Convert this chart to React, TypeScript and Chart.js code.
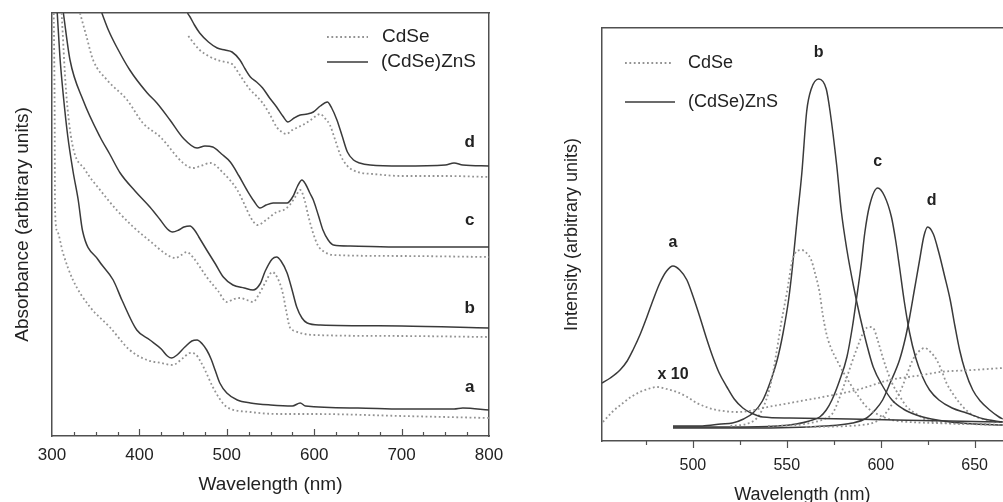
import React, { useEffect, useRef } from 'react';
import { Chart, registerables } from 'chart.js';
Chart.register(...registerables);
Chart.defaults.font.family = 'Arial, "Liberation Sans", Helvetica, sans-serif';

type P = [number, number];

// ---------- Left panel: absorbance (wavelength nm, arbitrary units) ----------
const absTickLabels = [300, 400, 500, 600, 700, 800];
const absMajorTicks = [400, 500, 600, 700];
const absMinorTicks = [325, 350, 375, 425, 450, 475, 525, 550, 575, 625, 650, 675, 725, 750, 775];

const absA_CdSe: P[] = [[302, 423], [303, 330], [303.5, 226], [306, 205], [312.6, 183], [324, 156], [343.5, 129], [366, 109], [389, 86], [408.7, 76], [425, 73], [438, 71], [450, 78], [458, 83], [464, 82], [469, 76], [475, 66], [484, 49], [492, 37], [500, 29], [526.5, 24], [560, 22], [600, 22], [700, 20], [800, 18]];
const absA_ZnS: P[] = [[306, 423], [309, 380], [313, 340], [318, 300], [324, 265], [330, 236], [335, 205], [353, 176], [370, 156], [380, 136], [397, 106], [412, 96], [425, 87], [432, 80], [437, 78], [443, 81], [452, 89], [460, 95], [466, 96], [472, 92], [477, 86], [482, 77], [487, 65], [492, 53], [500, 43], [512, 36], [527, 33], [550, 31], [575, 30], [584, 33], [590, 30], [650, 28], [700, 27], [760, 27], [770, 28], [800, 26]];
const absB_CdSe: P[] = [[311, 423], [316, 346], [323, 293], [338, 266], [355, 246], [375, 225], [393, 209], [412, 195], [432, 181], [441, 178], [448, 181], [454, 184], [462, 178], [470, 168], [477, 159], [490, 145], [500, 134], [508, 137], [515, 138], [523, 136], [530, 134], [537, 142], [545, 155], [552, 164], [558, 158], [564, 143], [568, 125], [572, 109], [578, 105], [584, 103], [600, 101], [700, 100], [800, 99]];
const absB_ZnS: P[] = [[313, 423], [320.6, 376], [335.5, 336], [355, 299], [366, 282], [378, 263], [395, 245], [412, 229], [424, 216], [432, 207], [438, 204], [445, 206], [451, 209], [458, 210], [463, 206], [468, 199], [477, 186], [487, 172], [496, 159], [507, 151], [520, 148], [530, 146], [538, 152], [544, 165], [552, 177], [557, 179], [562, 175], [569, 163], [575, 145], [580, 129], [586, 118], [592, 113], [607, 111], [700, 110], [800, 108]];
const absC_CdSe: P[] = [[332, 423], [339, 401], [347, 376], [363, 356], [386, 336], [404, 313], [424, 299], [450, 273], [461, 268], [470, 270], [481, 273], [496, 263], [512, 246], [520, 232], [527, 219], [535, 211], [545, 216], [557, 224], [565, 226], [572, 231], [579, 240], [584, 246], [589, 236], [593, 221], [598, 205], [604, 191], [612, 184], [622, 181], [700, 180], [800, 179]];
const absC_ZnS: P[] = [[357, 423], [365, 405], [374, 389], [389, 366], [409, 343], [420, 333], [435, 316], [450, 298], [466, 288], [475, 290], [484, 289], [494, 282], [504, 274], [514, 260], [523, 246], [531, 235], [538, 228], [545, 231], [553, 233], [562, 233], [569, 233], [576, 240], [581, 250], [586, 256], [590, 252], [595, 243], [599, 236], [605, 220], [610, 206], [616, 196], [622, 191], [641, 190], [700, 189], [800, 189]];
const absD_CdSe: P[] = [[456, 400], [462, 393], [469, 386], [479, 380], [489, 376], [498, 374], [506, 372], [515, 361], [521, 353], [527, 346], [534, 340], [541, 333], [549, 322], [557, 309], [563, 304], [568, 302], [575, 306], [582, 309], [589, 312], [596, 316], [602, 320], [607, 322], [612, 318], [618, 311], [624, 296], [630, 281], [637, 271], [644, 266], [655, 263], [667, 262], [700, 260], [750, 260], [800, 259]];
const absD_ZnS: P[] = [[455, 423], [458, 419], [463, 411], [469, 403], [479, 394], [489, 388], [498, 386], [506, 384], [515, 376], [521, 367], [527, 359], [534, 354], [541, 348], [549, 338], [557, 329], [564, 320], [570, 314], [577, 318], [584, 321], [592, 322], [599, 324], [607, 330], [615, 334], [620, 328], [626, 316], [632, 300], [638, 284], [645, 276], [652, 273], [664, 271], [700, 270], [750, 271], [760, 273], [770, 271], [800, 270]];

// ---------- Right panel: photoluminescence ----------
const plTickLabels = [500, 550, 600, 650];
const plMajorTicks = [500, 550, 600, 650];
const plMinorTicks = [475, 525, 575, 625];

const plA_CdSe_x10: P[] = [[452.1, 19], [457, 29], [462.8, 38], [467, 44], [471.8, 49], [476, 52], [480.9, 54], [486, 52], [491.5, 49], [497, 44], [502.1, 38], [507, 34], [512.8, 31], [523.4, 29], [530, 30], [537.2, 33], [551.6, 38], [569.1, 44], [587.2, 51], [604.8, 61], [622.3, 66], [631.4, 69], [648.9, 71], [664.9, 73]];
const plA_ZnS: P[] = [[451.6, 58], [456, 63], [461.2, 71], [465, 80], [468.1, 91], [472, 107], [475.5, 124], [479, 142], [482.4, 158], [486, 170], [489.4, 175], [493, 171], [496.8, 161], [500, 145], [503.7, 124], [507, 104], [510.6, 84], [514, 68], [518.1, 54], [522, 42], [526.6, 33], [531, 28], [537.2, 24], [551.6, 23], [583.5, 22], [636.7, 20], [665, 19]];
const plB_CdSe: P[] = [[520, 15], [530, 18], [535, 25], [539, 41], [542, 62], [544.7, 91], [547, 118], [550, 148], [553, 181], [555.5, 190], [558, 191], [560.5, 188], [563, 181], [565, 168], [567.5, 148], [569, 128], [571, 108], [573.5, 93], [576.6, 81], [580, 69], [583.5, 58], [588, 45], [592.5, 34], [599, 26], [606, 21], [615, 19], [627.7, 18], [645, 17], [665, 16]];
const plB_ZnS: P[] = [[489.4, 15], [505, 15], [515, 17], [521, 18], [527, 22], [532, 28], [537, 40], [541, 58], [545, 82], [548, 108], [551, 142], [553, 174], [555.5, 222], [558, 268], [560.6, 330], [563, 352], [567, 362], [571, 352], [573, 330], [576.6, 275], [579, 230], [582, 191], [585.5, 155], [589, 124], [592.5, 97], [596, 74], [601, 55], [606, 41], [612, 32], [619, 26], [627, 22], [637, 19], [650, 17], [665, 16]];
const plC_CdSe: P[] = [[540, 15], [555, 16], [565, 19], [570, 22], [574.5, 28], [578, 43], [582, 64], [587, 91], [591.5, 111], [594, 114], [596, 113], [598.5, 100], [601, 84], [603.5, 70], [606, 58], [610, 45], [614, 34], [619, 27], [624.5, 21], [635, 18], [650, 17], [665, 16]];
const plC_ZnS: P[] = [[489.4, 14], [520, 14], [545, 15], [555, 17], [562, 20], [567.5, 24], [571, 31], [574, 41], [578, 60], [582, 84], [585, 115], [587, 141], [589.5, 175], [591.5, 208], [594, 235], [598.4, 253], [602, 245], [605.7, 224], [608, 200], [610, 174], [612.5, 140], [615.4, 108], [618.5, 84], [622.3, 64], [626, 51], [631, 41], [638, 33], [645.7, 28], [655, 22], [665, 19]];
const plD_CdSe: P[] = [[560, 14], [590, 16], [597, 19], [601, 24], [605, 34], [610, 48], [613.5, 64], [617, 81], [620, 89], [623.4, 93], [626.5, 89], [629.8, 81], [632.5, 70], [635, 58], [638.5, 47], [642, 38], [646, 30], [651, 24], [657, 21], [663, 19], [665, 19]];
const plD_ZnS: P[] = [[489.4, 13], [530, 13], [570, 15], [585, 18], [592.5, 23], [597, 31], [601, 41], [605, 58], [610, 81], [613, 102], [615.4, 124], [618, 152], [620.7, 181], [623, 205], [625, 214], [628, 207], [631, 188], [634, 165], [637, 141], [639.5, 115], [642, 91], [645, 70], [649, 51], [653, 40], [658, 31], [663, 24], [665, 22]];

const SOLID = '#3a3a3a';
const DOT = '#939393';
const AXIS = '#505050';
const TXT = '#222222';

const toXY = (p: P[]) => p.map(([x, y]) => ({ x, y }));
function ds(label: string, pts: P[], dotted: boolean) {
  return {
    label,
    data: toXY(pts),
    borderColor: dotted ? DOT : SOLID,
    borderWidth: dotted ? 1.8 : 1.5,
    borderDash: dotted ? [1.8, 2.6] : [],
    pointRadius: 0,
    cubicInterpolationMode: 'monotone',
    fill: false,
  };
}

const decorPlugin = {
  id: 'decor',
  afterDraw(chart: any) {
    const o = chart.options.plugins.decor;
    if (!o) return;
    const ctx = chart.ctx;
    const xs = chart.scales.x;
    const ys = chart.scales.y;
    const bottom = chart.chartArea.bottom;
    ctx.save();
    ctx.strokeStyle = AXIS;
    ctx.lineWidth = 1.2;
    const tick = (v: number, len: number) => {
      const px = Math.round(xs.getPixelForValue(v)) + 0.5;
      ctx.beginPath();
      ctx.moveTo(px, bottom);
      ctx.lineTo(px, bottom + o.dir * len);
      ctx.stroke();
    };
    o.major.forEach((v: number) => tick(v, o.majorLen));
    o.minor.forEach((v: number) => tick(v, o.minorLen));
    ctx.fillStyle = TXT;
    ctx.textAlign = 'center';
    ctx.textBaseline = 'middle';
    ctx.font = o.labelFont;
    o.labels.forEach((l: any) => ctx.fillText(l.t, xs.getPixelForValue(l.x), ys.getPixelForValue(l.y)));
    ctx.textAlign = 'left';
    ctx.font = o.legendFont;
    o.legend.forEach((g: any) => {
      ctx.beginPath();
      ctx.strokeStyle = g.dotted ? DOT : SOLID;
      ctx.lineWidth = g.dotted ? 1.8 : 1.5;
      ctx.setLineDash(g.dotted ? [1.8, 2.6] : []);
      ctx.moveTo(g.x1, g.y);
      ctx.lineTo(g.x2, g.y);
      ctx.stroke();
      ctx.setLineDash([]);
      ctx.fillText(g.text, g.tx, g.y);
    });
    ctx.restore();
  },
};

const frameAxis = (pos: string, min: number, max: number, horiz: boolean) => ({
  type: 'linear',
  position: pos,
  min,
  max,
  afterFit: (s: any) => {
    if (horiz) s.height = 0;
    else s.width = 0;
  },
  grid: { display: false, drawTicks: false },
  border: { display: true, color: AXIS, width: 1.5 },
  ticks: { display: false },
});

function leftConfig(): any {
  return {
    type: 'line',
    data: {
      datasets: [
        ds('a CdSe', absA_CdSe, true),
        ds('a (CdSe)ZnS', absA_ZnS, false),
        ds('b CdSe', absB_CdSe, true),
        ds('b (CdSe)ZnS', absB_ZnS, false),
        ds('c CdSe', absC_CdSe, true),
        ds('c (CdSe)ZnS', absC_ZnS, false),
        ds('d CdSe', absD_CdSe, true),
        ds('d (CdSe)ZnS', absD_ZnS, false),
      ],
    },
    options: {
      responsive: false,
      animation: false,
      layout: { padding: { left: 0, right: 31, top: 13, bottom: 0 } },
      plugins: {
        legend: { display: false },
        tooltip: { enabled: false },
        decor: {
          dir: -1,
          major: absMajorTicks,
          minor: absMinorTicks,
          majorLen: 7,
          minorLen: 4,
          labelFont: 'bold 17px Arial, "Liberation Sans", sans-serif',
          labels: [
            { t: 'd', x: 778, y: 294 },
            { t: 'c', x: 778, y: 216 },
            { t: 'b', x: 778, y: 128 },
            { t: 'a', x: 778, y: 49 },
          ],
          legendFont: '19px Arial, "Liberation Sans", sans-serif',
          legend: [
            { x1: 327, x2: 368, y: 37, dotted: true, text: 'CdSe', tx: 382 },
            { x1: 327, x2: 368, y: 62, dotted: false, text: '(CdSe)ZnS', tx: 381 },
          ],
        },
      },
      scales: {
        x: {
          type: 'linear',
          position: 'bottom',
          min: 300,
          max: 800,
          afterBuildTicks: (s: any) => {
            s.ticks = absTickLabels.map((v) => ({ value: v }));
          },
          afterFit: (s: any) => {
            s.height = 66;
          },
          grid: { display: false, drawTicks: false },
          border: { display: true, color: AXIS, width: 1.5 },
          ticks: { font: { size: 17 }, color: TXT, padding: 9, maxRotation: 0, autoSkip: false },
          title: { display: true, text: 'Wavelength (nm)', font: { size: 19 }, color: TXT, padding: { top: 0, bottom: 6 } },
        },
        xTop: frameAxis('top', 300, 800, true),
        y: {
          type: 'linear',
          position: 'left',
          min: 0,
          max: 423,
          afterFit: (s: any) => {
            s.width = 52;
          },
          grid: { display: false, drawTicks: false },
          border: { display: true, color: AXIS, width: 1.5 },
          ticks: { display: false },
          title: { display: true, text: 'Absorbance (arbitrary units)', font: { size: 19 }, color: TXT, padding: { top: 11, bottom: 0 } },
        },
        yRight: frameAxis('right', 0, 423, false),
      },
    },
    plugins: [decorPlugin],
  };
}

function rightConfig(): any {
  return {
    type: 'line',
    data: {
      datasets: [
        ds('a CdSe x10', plA_CdSe_x10, true),
        ds('a (CdSe)ZnS', plA_ZnS, false),
        ds('b CdSe', plB_CdSe, true),
        ds('b (CdSe)ZnS', plB_ZnS, false),
        ds('c CdSe', plC_CdSe, true),
        ds('c (CdSe)ZnS', plC_ZnS, false),
        ds('d CdSe', plD_CdSe, true),
        ds('d (CdSe)ZnS', plD_ZnS, false),
      ],
    },
    options: {
      responsive: false,
      animation: false,
      layout: { padding: { left: 0, right: 0, top: 28, bottom: 0 } },
      plugins: {
        legend: { display: false },
        tooltip: { enabled: false },
        decor: {
          dir: 1,
          major: plMajorTicks,
          minor: plMinorTicks,
          majorLen: 7,
          minorLen: 4,
          labelFont: 'bold 16px Arial, "Liberation Sans", sans-serif',
          labels: [
            { t: 'b', x: 567, y: 388 },
            { t: 'c', x: 598.4, y: 279 },
            { t: 'd', x: 627.1, y: 240 },
            { t: 'a', x: 489.4, y: 198 },
            { t: 'x 10', x: 489.4, y: 66 },
          ],
          legendFont: '18px Arial, "Liberation Sans", sans-serif',
          legend: [
            { x1: 125, x2: 172, y: 63, dotted: true, text: 'CdSe', tx: 188 },
            { x1: 125, x2: 175, y: 102, dotted: false, text: '(CdSe)ZnS', tx: 188 },
          ],
        },
      },
      scales: {
        x: {
          type: 'linear',
          position: 'bottom',
          min: 451.6,
          max: 665,
          afterBuildTicks: (s: any) => {
            s.ticks = plTickLabels.map((v) => ({ value: v }));
          },
          afterFit: (s: any) => {
            s.height = 65;
          },
          grid: { display: false, drawTicks: false },
          border: { display: true, color: AXIS, width: 1.5 },
          ticks: { font: { size: 16 }, color: TXT, padding: 15, maxRotation: 0, autoSkip: false },
          title: { display: true, text: 'Wavelength (nm)', font: { size: 18 }, color: TXT, padding: { top: 0, bottom: 0 } },
        },
        xTop: frameAxis('top', 451.6, 665, true),
        y: {
          type: 'linear',
          position: 'left',
          min: 0,
          max: 413,
          afterFit: (s: any) => {
            s.width = 102;
          },
          grid: { display: false, drawTicks: false },
          border: { display: true, color: AXIS, width: 1.5 },
          ticks: { display: false },
          title: { display: true, text: 'Intensity (arbitrary units)', font: { size: 18 }, color: TXT, padding: { top: 61, bottom: 0 } },
        },
      },
    },
    plugins: [decorPlugin],
  };
}

export default function App() {
  const leftRef = useRef<HTMLCanvasElement>(null);
  const rightRef = useRef<HTMLCanvasElement>(null);
  useEffect(() => {
    const c1 = new Chart(leftRef.current as HTMLCanvasElement, leftConfig());
    const c2 = new Chart(rightRef.current as HTMLCanvasElement, rightConfig());
    return () => {
      c1.destroy();
      c2.destroy();
    };
  }, []);
  return (
    <div style={{ position: 'fixed', left: 0, top: 0, width: 1003, height: 502, background: '#fff', overflow: 'hidden' }}>
      <canvas ref={leftRef} width={520} height={502} style={{ position: 'absolute', left: 0, top: 0, width: 520, height: 502 }} />
      <canvas ref={rightRef} width={503} height={506} style={{ position: 'absolute', left: 500, top: 0, width: 503, height: 506 }} />
    </div>
  );
}
